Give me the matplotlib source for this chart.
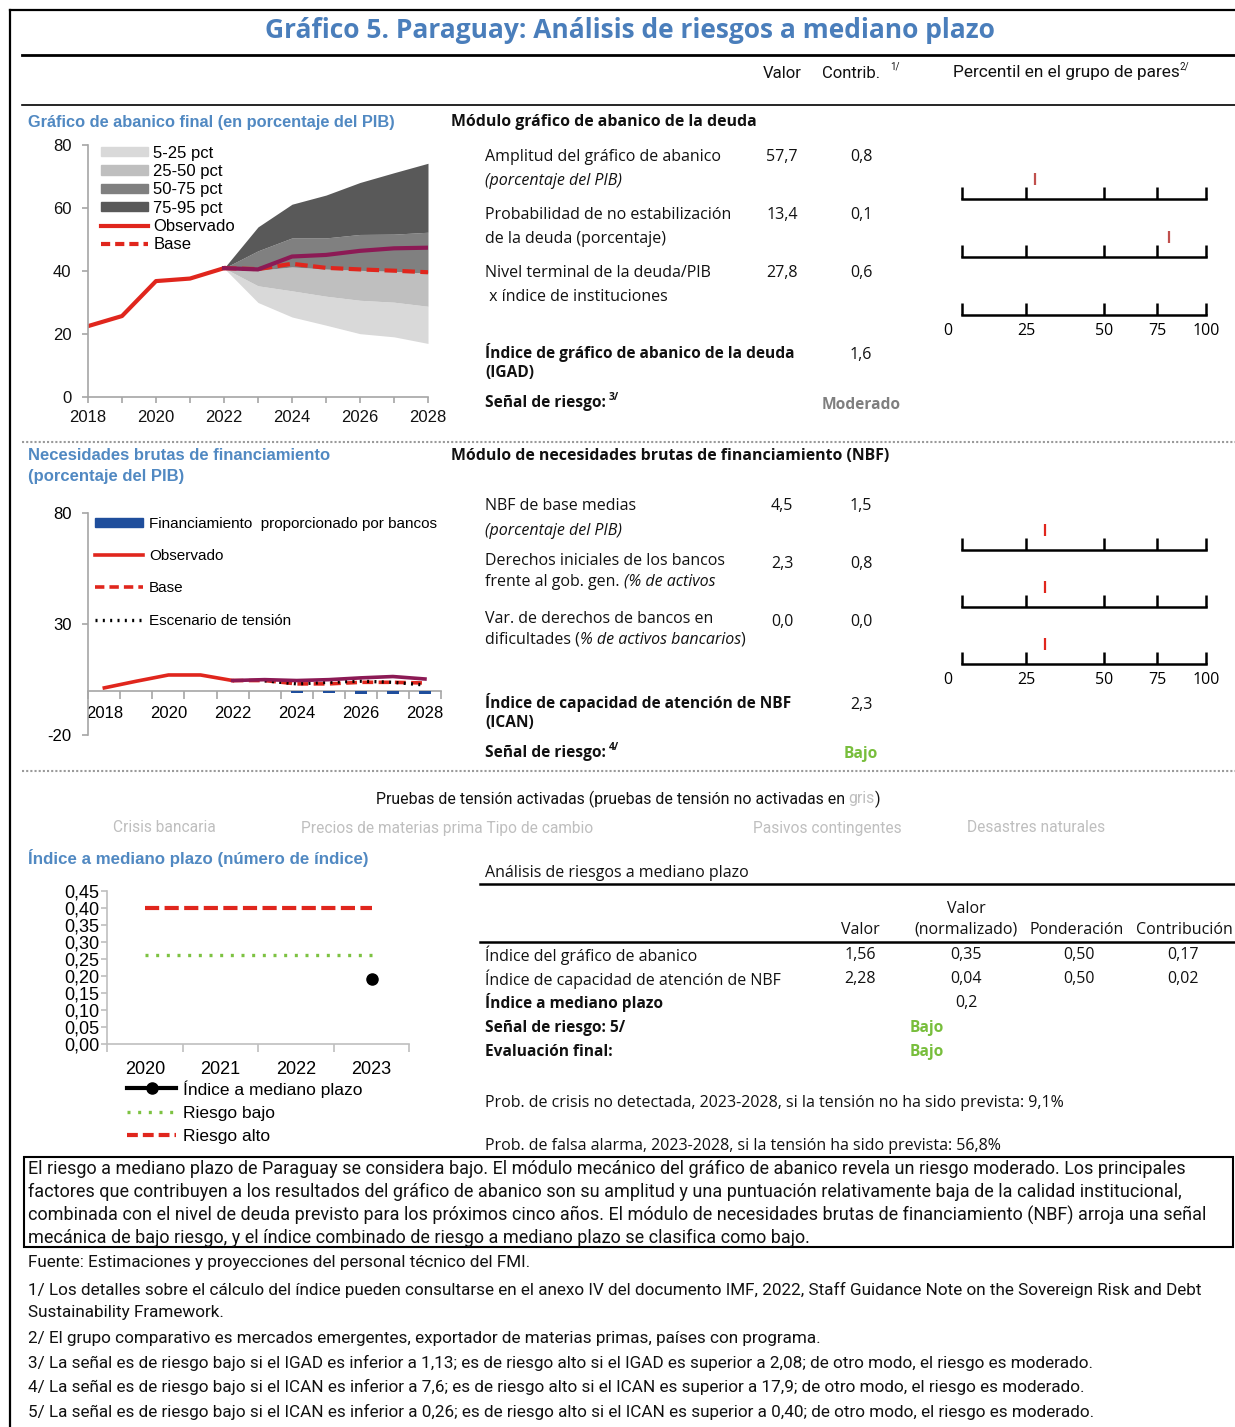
import numpy as np
import matplotlib
matplotlib.use("Agg")
import matplotlib.pyplot as plt
from matplotlib.lines import Line2D
from matplotlib.patches import Patch, Rectangle
from matplotlib.transforms import ScaledTranslation
from matplotlib.ticker import FuncFormatter

plt.rcParams["axes.unicode_minus"] = False

# ------------------------------------------------------------------ data
# Fan chart (public debt, % of GDP)
fan_years_obs = [2018, 2019, 2020, 2021, 2022]
debt_observed = [22.5, 25.7, 36.8, 37.6, 40.9]
fan_years_proj = [2022, 2023, 2024, 2025, 2026, 2027, 2028]
debt_base = [40.9, 40.6, 42.3, 41.0, 40.5, 40.1, 39.6]
debt_projection = [40.9, 40.5, 44.6, 45.1, 46.4, 47.2, 47.4]
fan_p5 = [40.9, 30.0, 25.4, 22.8, 20.1, 19.1, 17.0]
fan_p25 = [40.9, 35.3, 33.7, 32.0, 30.7, 30.1, 28.8]
fan_p50 = [40.9, 40.2, 41.3, 40.6, 40.2, 39.9, 39.3]
fan_p75 = [40.9, 46.4, 50.5, 50.5, 51.6, 51.7, 52.3]
fan_p95 = [40.9, 54.0, 61.2, 64.1, 68.1, 71.2, 74.2]
fan_band_labels = ["5-25 pct", "25-50 pct", "50-75 pct", "75-95 pct"]

# Gross financing needs (% of GDP)
gfn_years = list(range(2018, 2029))
gfn_obs_years = [2018, 2019, 2020, 2021, 2022]
gfn_observed = [1.2, 4.2, 7.0, 7.0, 4.5]
gfn_proj_years = [2022, 2023, 2024, 2025, 2026, 2027, 2028]
gfn_projection = [4.5, 4.9, 4.5, 4.9, 5.7, 6.3, 5.2]
gfn_base = [4.5, 4.5, 3.0, 3.0, 3.7, 3.7, 3.4]
gfn_stress_years = [2023, 2024, 2025, 2026, 2027, 2028]
gfn_stress = [4.4, 3.0, 3.7, 4.2, 3.7, 2.5]
bank_years = [2024, 2025, 2026, 2027, 2028]
bank_financing = [-1.0, -1.0, -1.6, -1.6, -1.6]

# Medium-term index
mti_years = ["2020", "2021", "2022", "2023"]
mti_index = [np.nan, np.nan, np.nan, 0.19]
mti_low = [0.26, 0.26, 0.26, 0.26]
mti_high = [0.40, 0.40, 0.40, 0.40]

# Peer-group percentiles
pct_ticks = [0, 25, 50, 75, 100]
pct_tick_share = [0, 26.2, 58.2, 79.9, 100]
pct_fan = [28, 81, np.nan]
pct_gfn = [31, 31, 31]

# Module tables
fan_rows = [
    ("Amplitud del gráfico de abanico", "(porcentaje del PIB)", "57,7", "0,8"),
    ("Probabilidad de no estabilización", "de la deuda (porcentaje)", "13,4", "0,1"),
    ("Nivel terminal de la deuda/PIB", " x índice de instituciones", "27,8", "0,6"),
]
gfn_values = [("4,5", "1,5"), ("2,3", "0,8"), ("0,0", "0,0")]
mt_rows = [
    ("Índice del gráfico de abanico", "1,56", "0,35", "0,50", "0,17"),
    ("Índice de capacidad de atención de NBF", "2,28", "0,04", "0,50", "0,02"),
]
stress_tests = ["Crisis bancaria", "Precios de materias prima Tipo de cambio",
                "Pasivos contingentes", "Desastres naturales"]

# ------------------------------------------------------------------ style
UI = "Open Sans"
NARROW = "Roboto"
ARIAL = "Liberation Sans"
TITLE_BLUE = "#4A7EBB"
SEC_BLUE = "#5189C2"
RED = "#E0261D"
PURPLE = "#8C1A55"
NAVY = "#1F4E9C"
GREEN = "#78BE3C"
FAN_COLORS = ["#D9D9D9", "#BFBFBF", "#808080", "#595959"]
SPINE = "#A6A6A6"
BODY = 11.5

W, H = 1235, 1427
fig = plt.figure(figsize=(W / 100, H / 100), dpi=100)
fig.patch.set_facecolor("white")
renderer = fig.canvas.get_renderer()


def axes_px(l, t, r, b):
    return fig.add_axes([l / W, 1 - b / H, (r - l) / W, (b - t) / H])


def text(x, y, s, size=BODY, family=UI, **kw):
    kw.setdefault("va", "center")
    kw.setdefault("ha", "left")
    kw.setdefault("color", "#111111")
    return fig.text(x / W, 1 - y / H, s, fontsize=size, family=family, **kw)


def fline(xs, ys, **kw):
    fig.add_artist(Line2D([x / W for x in xs], [1 - y / H for y in ys],
                          transform=fig.transFigure, **kw))


def advance(s, **props):
    t = fig.text(0, 0, "|" + s + "|", **props)
    w = t.get_window_extent(renderer).width
    t.set_text("||")
    w -= t.get_window_extent(renderer).width
    t.remove()
    return w


def rich(x, y, parts, size, family, ha="left"):
    props = [{**dict(fontsize=size, family=family, color="#111111"), **p} for _, p in parts]
    widths = [advance(s, **pr) for (s, _), pr in zip(parts, props)]
    cur = x - sum(widths) / 2 if ha == "center" else x
    for (s, _), pr, w in zip(parts, props, widths):
        fig.text(cur / W, 1 - y / H, s, va="center", ha="left", **pr)
        cur += w


def style_axes(ax, spine_color=SPINE):
    for s in ["top", "right"]:
        ax.spines[s].set_visible(False)
    for s in ["left", "bottom"]:
        ax.spines[s].set_color(spine_color)
        ax.spines[s].set_linewidth(1.2)
    ax.patch.set_alpha(0)


# ------------------------------------------------------------------ frame & header
fline([10, 10], [10, 1427], color="black", lw=1.6)
fline([10, 1235], [10, 10], color="black", lw=1.6)
text(630, 31, "Gráfico 5. Paraguay: Análisis de riesgos a mediano plazo", size=19,
     ha="center", color=TITLE_BLUE, fontweight="bold")
fline([22, 1235], [55, 55], color="black", lw=2)
text(782, 73, "Valor", size=12, family=NARROW, ha="center")
text(822, 73, "Contrib.", size=12, family=NARROW)
text(890, 66, "1/", size=7, family=NARROW)
text(953, 73, "Percentil en el grupo de pares", size=12.4, family=NARROW)
text(1180, 67, "2/", size=7, family=NARROW)
fline([22, 1235], [105, 105], color="black", lw=1.2)

# ------------------------------------------------------------------ fan chart module
text(28, 122, "Gráfico de abanico final (en porcentaje del PIB)", size=11.8,
     family=ARIAL, color=SEC_BLUE, fontweight="bold")
text(451, 122, "Módulo gráfico de abanico de la deuda", size=11.4, fontweight="bold")
row_y = [157, 215, 273]
for (l1, l2, val, con), y in zip(fan_rows, row_y):
    text(485, y, l1)
    text(485, y + 24, l2, style="italic" if l2.startswith("(") else "normal")
    text(782, y, val, ha="center")
    text(861, y, con, ha="center")
text(485, 352, "Índice de gráfico de abanico de la deuda", size=11.2, fontweight="bold")
text(485, 373, "(IGAD)", size=11.2, fontweight="bold")
text(861, 355, "1,6", ha="center")
text(485, 403, "Señal de riesgo:", size=11.2, fontweight="bold")
text(609, 398, "3/", size=7.5, fontweight="bold")
text(861, 405, "Moderado", size=11.2, ha="center", fontweight="bold", color="#7F7F7F")

ax = axes_px(88, 145, 428, 397)
band_edges = [fan_p5, fan_p25, fan_p50, fan_p75, fan_p95]
for lo, hi, c in zip(band_edges[:-1], band_edges[1:], FAN_COLORS):
    ax.fill_between(fan_years_proj, lo, hi, color=c, lw=0)
ax.plot(fan_years_obs, debt_observed, color=RED, lw=3)
ax.plot(fan_years_proj, debt_base, color=RED, lw=3, ls=(0, (3, 1.3)))
ax.plot(fan_years_proj, debt_projection, color=PURPLE, lw=3)
ax.set_xlim(2018, 2028)
ax.set_ylim(0, 80)
style_axes(ax)
ax.set_xticks(range(2018, 2029, 2))
ax.set_xticks(range(2018, 2029), minor=True)
ax.set_yticks([0, 20, 40, 60, 80])
ax.tick_params(axis="both", which="both", colors=SPINE, length=4, width=1.2,
               labelcolor="#111111", labelsize=12)
ax.tick_params(axis="y", pad=8)
ax.tick_params(axis="x", pad=5)
for lab in ax.get_xticklabels() + ax.get_yticklabels():
    lab.set_family(ARIAL)
handles = [Patch(color=c) for c in FAN_COLORS] + [
    Line2D([], [], color=RED, lw=3), Line2D([], [], color=RED, lw=3, ls=(0, (2.2, 1.2)))]
labels = fan_band_labels + ["Observado", "Base"]
ax.legend(handles, labels, loc="upper left", bbox_to_anchor=(0.038, 0.998), frameon=False,
          borderpad=0, borderaxespad=0, labelspacing=0.2, handlelength=2.8,
          handleheight=0.5, handletextpad=0.35, prop=dict(family=ARIAL, size=12))

# ------------------------------------------------------------------ percentile bars
def pct_fwd(x):
    return np.interp(x, pct_ticks, pct_tick_share)


def pct_inv(x):
    return np.interp(x, pct_tick_share, pct_ticks)


def pct_bar(axis_y, value, color, labels):
    a = axes_px(962, axis_y - 30, 1206, axis_y)
    a.set_xscale("function", functions=(pct_fwd, pct_inv))
    a.set_xlim(0, 100)
    a.set_ylim(0, 1)
    for s in ["top", "left", "right"]:
        a.spines[s].set_visible(False)
    a.spines["bottom"].set_color("black")
    a.spines["bottom"].set_linewidth(1.8)
    a.patch.set_alpha(0)
    a.set_yticks([])
    a.set_xticks(pct_ticks)
    a.minorticks_off()
    a.tick_params(axis="x", direction="in", length=9, width=1.8, color="black",
                  labelbottom=labels, labelsize=11.5, pad=6)
    if labels:
        for lab in a.get_xticklabels():
            lab.set_family(UI)
        first = a.xaxis.get_major_ticks()[0].label1
        first.set_transform(first.get_transform() +
                            ScaledTranslation(-0.14, 0, fig.dpi_scale_trans))
    if not np.isnan(value):
        a.plot([value], [0.66], marker="|", ms=9, mew=1.6, color=color, clip_on=False)


for i, (v, y) in enumerate(zip(pct_fan, [199, 257, 315])):
    pct_bar(y, v, "#C0504D", i == 2)
for i, (v, y) in enumerate(zip(pct_gfn, [550, 607, 664])):
    pct_bar(y, v, "#E0261D", i == 2)

fline([22, 1235], [442, 442], color="#9A9A9A", lw=1.5, ls=(0, (1, 1)))

# ------------------------------------------------------------------ GFN module
text(28, 455, "Necesidades brutas de financiamiento", size=12, family=ARIAL,
     color=SEC_BLUE, fontweight="bold")
text(28, 477, "(porcentaje del PIB)", size=12, family=ARIAL, color=SEC_BLUE,
     fontweight="bold")
text(451, 456, "Módulo de necesidades brutas de financiamiento (NBF)", size=11.4,
     fontweight="bold")
text(485, 506, "NBF de base medias")
text(485, 531, "(porcentaje del PIB)", style="italic")
text(485, 561, "Derechos iniciales de los bancos")
rich(485, 582, [("frente al gob. gen. ", {}), ("(% de activos", dict(style="italic"))], BODY, UI)
text(485, 619, "Var. de derechos de bancos en")
rich(485, 640, [("dificultades (", {}), ("% de activos bancarios", dict(style="italic")),
                (")", {})], BODY, UI)
for (val, con), y in zip(gfn_values, [506, 564, 622]):
    text(782, y, val, ha="center")
    text(861, y, con, ha="center")
text(485, 702, "Índice de capacidad de atención de NBF", size=11.2, fontweight="bold")
text(485, 723, "(ICAN)", size=11.2, fontweight="bold")
text(861, 705, "2,3", ha="center")
text(485, 753, "Señal de riesgo:", size=11.2, fontweight="bold")
text(609, 748, "4/", size=7.5, fontweight="bold")
text(861, 754, "Bajo", size=11.2, ha="center", fontweight="bold", color=GREEN)

ax = axes_px(88.3, 512.7, 441, 735)
pos = {y: i for i, y in enumerate(gfn_years)}
ax.bar([pos[y] for y in bank_years], bank_financing, width=0.38, color=NAVY, zorder=3)
ax.plot([pos[y] for y in gfn_obs_years], gfn_observed, color=RED, lw=2.6)
ax.plot([pos[y] for y in gfn_proj_years], gfn_base, color=RED, lw=2.6, ls=(0, (3, 1.5)))
ax.plot([pos[y] for y in gfn_stress_years], gfn_stress, color="black", lw=2.4,
        ls=(0, (0.6, 1.6)))
ax.plot([pos[y] for y in gfn_proj_years], gfn_projection, color=PURPLE, lw=2.6)
ax.set_xlim(-0.5, len(gfn_years) - 0.5)
ax.set_ylim(-20, 80)
style_axes(ax)
ax.spines["bottom"].set_position(("data", 0))
ax.set_xticks(range(0, len(gfn_years), 2))
ax.set_xticklabels([str(y) for y in gfn_years[::2]])
ax.set_xticks(np.arange(-0.5, len(gfn_years)), minor=True)
ax.set_yticks([-20, 30, 80])
ax.tick_params(axis="x", which="major", length=0, pad=11, labelsize=12)
ax.tick_params(axis="x", which="minor", length=6, width=1.2, color=SPINE)
ax.tick_params(axis="y", length=4, width=1.2, color=SPINE, pad=8, labelsize=12)
for lab in ax.get_xticklabels() + ax.get_yticklabels():
    lab.set_family(ARIAL)
handles = [Patch(color=NAVY), Line2D([], [], color=RED, lw=2.6),
           Line2D([], [], color=RED, lw=2.6, ls=(0, (2.6, 1.4))),
           Line2D([], [], color="black", lw=2.4, ls=(0, (0.6, 1.6)))]
labels = ["Financiamiento  proporcionado por bancos", "Observado", "Base",
          "Escenario de tensión"]
ax.legend(handles, labels, loc="upper left", bbox_to_anchor=(0.02, 0.982), frameon=False,
          borderpad=0, borderaxespad=0, labelspacing=1.2, handlelength=3.1,
          handleheight=0.5, handletextpad=0.4, prop=dict(family=ARIAL, size=11))

fline([22, 1235], [771, 771], color="#9A9A9A", lw=1.5, ls=(0, (1, 1)))

# ------------------------------------------------------------------ stress tests
rich(628, 799, [("Pruebas de tensión activadas (pruebas de tensión no activadas en ", {}),
                ("gris", dict(color="#BFBFBF")), (")", {})], 11.4, NARROW, ha="center")
gray = "#BFBFBF"
text(164, 828, stress_tests[0], size=11.2, family=NARROW, ha="center", color=gray)
text(301, 828, stress_tests[1], size=11.2, family=NARROW, color=gray)
text(827, 828, stress_tests[2], size=11.2, family=NARROW, ha="center", color=gray)
text(1036, 828, stress_tests[3], size=11.2, family=NARROW, ha="center", color=gray)

# ------------------------------------------------------------------ medium-term index chart
text(28, 858, "Índice a mediano plazo (número de índice)", size=12.2, family=ARIAL,
     color=SEC_BLUE, fontweight="bold")
ax = axes_px(107.3, 890.7, 409.3, 1044)
xi = np.arange(len(mti_years))
ax.plot(xi, mti_high, color=RED, lw=3, ls=(0, (3.4, 1.3)))
ax.plot(xi, mti_low, color="#7DC242", lw=2.4, ls=(0, (0.9, 2.3)))
ax.plot(xi, mti_index, color="black", lw=3, marker="o", ms=8)
ax.set_xlim(-0.5, len(mti_years) - 0.5)
ax.set_ylim(0, 0.45)
style_axes(ax, "#BFBFBF")
ax.set_xticks(xi)
ax.set_xticklabels(mti_years)
ax.set_xticks(np.arange(-0.5, len(mti_years)), minor=True)
ax.set_yticks(np.arange(0, 0.451, 0.05))
ax.yaxis.set_major_formatter(FuncFormatter(lambda v, p: f"{v:.2f}".replace(".", ",")))
ax.tick_params(axis="x", which="major", length=0, pad=12, labelsize=13)
ax.tick_params(axis="x", which="minor", length=6, width=1.2, color="#BFBFBF")
ax.tick_params(axis="y", length=4, width=1.2, color="#BFBFBF", pad=1.5, labelsize=13)
for lab in ax.get_xticklabels() + ax.get_yticklabels():
    lab.set_family(ARIAL)
handles = [Line2D([], [], color="black", lw=3, marker="o", ms=8),
           Line2D([], [], color="#7DC242", lw=2.4, ls=(0, (0.9, 2.3))),
           Line2D([], [], color=RED, lw=3, ls=(0, (2.6, 1.2)))]
ax.legend(handles, ["Índice a mediano plazo", "Riesgo bajo", "Riesgo alto"],
          loc="upper left", bbox_to_anchor=(0.066, -0.235), frameon=False, borderpad=0,
          borderaxespad=0, labelspacing=0.46, handlelength=2.8, handletextpad=0.4,
          numpoints=1, prop=dict(family=ARIAL, size=12.5))

# ------------------------------------------------------------------ medium-term table
text(485, 873, "Análisis de riesgos a mediano plazo")
fline([480, 1235], [884, 884], color="black", lw=1.8)
text(860, 930, "Valor", ha="center")
text(966, 909, "Valor", ha="center")
text(966, 930, "(normalizado)", ha="center")
text(1077, 930, "Ponderación", ha="center")
text(1184, 930, "Contribución", ha="center")
fline([480, 1235], [942, 942], color="black", lw=1.8)
for (name, v, vn, wt, c), y in zip(mt_rows, [955, 979]):
    text(485, y, name)
    text(860, y, v, ha="center")
    text(966, y, vn, ha="center")
    text(1079, y, wt, ha="center")
    text(1183, y, c, ha="center")
text(485, 1003, "Índice a mediano plazo", size=11.2, fontweight="bold")
text(966, 1003, "0,2", ha="center")
text(485, 1028, "Señal de riesgo: 5/", size=11.2, fontweight="bold")
text(927, 1028, "Bajo", size=11.2, ha="center", fontweight="bold", color=GREEN)
text(485, 1052, "Evaluación final:", size=11.2, fontweight="bold")
text(927, 1052, "Bajo", size=11.2, ha="center", fontweight="bold", color=GREEN)
text(485, 1103, "Prob. de crisis no detectada, 2023-2028, si la tensión no ha sido prevista: 9,1%")
text(485, 1146, "Prob. de falsa alarma, 2023-2028, si la tensión ha sido prevista: 56,8%")

# ------------------------------------------------------------------ summary box
fig.add_artist(Rectangle((24 / W, 1 - 1247 / H), (1233 - 24) / W, (1247 - 1157) / H,
                         transform=fig.transFigure, fill=False, ec="black", lw=1.5))
summary = [
    "El riesgo a mediano plazo de Paraguay se considera bajo. El módulo mecánico del gráfico de abanico revela un riesgo moderado. Los principales",
    "factores que contribuyen a los resultados del gráfico de abanico son su amplitud y una puntuación relativamente baja de la calidad institucional,",
    "combinada con el nivel de deuda previsto para los próximos cinco años. El módulo de necesidades brutas de financiamiento (NBF) arroja una señal",
    "mecánica de bajo riesgo, y el índice combinado de riesgo a mediano plazo se clasifica como bajo.",
]
for s, y in zip(summary, [1169, 1192, 1215, 1238]):
    text(28, y, s, size=13, family=NARROW)

notes = [
    ("Fuente: Estimaciones y proyecciones del personal técnico del FMI.", 1262),
    ("1/ Los detalles sobre el cálculo del índice pueden consultarse en el anexo IV del documento IMF, 2022, Staff Guidance Note on the Sovereign Risk and Debt", 1290),
    ("Sustainability Framework.", 1313),
    ("2/ El grupo comparativo es mercados emergentes, exportador de materias primas, países con programa.", 1338),
    ("3/ La señal es de riesgo bajo si el IGAD es inferior a 1,13; es de riesgo alto si el IGAD es superior a 2,08; de otro modo, el riesgo es moderado.", 1363),
    ("4/ La señal es de riesgo bajo si el ICAN es inferior a 7,6; es de riesgo alto si el ICAN es superior a 17,9; de otro modo, el riesgo es moderado.", 1387),
    ("5/ La señal es de riesgo bajo si el ICAN es inferior a 0,26; es de riesgo alto si el ICAN es superior a 0,40; de otro modo, el riesgo es moderado.", 1412),
]
for s, y in notes:
    text(28, y, s, size=12.3, family=NARROW)

fig.savefig("out.png", dpi=100)
